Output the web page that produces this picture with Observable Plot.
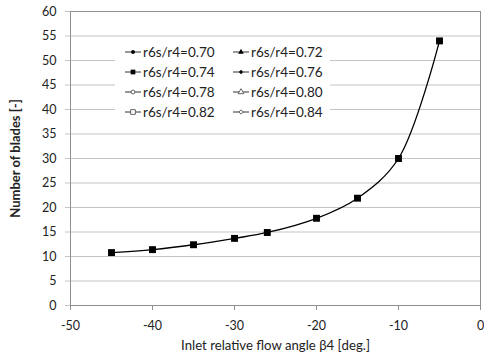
<!DOCTYPE html>
<html><head><meta charset="utf-8">
<script src="https://cdn.jsdelivr.net/npm/d3@7"></script>
<script src="https://cdn.jsdelivr.net/npm/@observablehq/plot@0.6"></script>
<style>
body{margin:0;background:#fff;}
#wrap{position:relative;width:484px;height:361px;font-family:Lato,"Open Sans",sans-serif;}
g[aria-label="y-axis label"] text{font-weight:bold;font-size:13px;}
g[aria-label="x-axis label"] text{font-size:13.2px;}
#legend{position:absolute;left:115px;top:37px;width:215px;height:94px;background:#fff;font-size:13.5px;color:#222;}
#legend .item{position:absolute;display:flex;align-items:center;height:20px;}
#legend svg{margin-right:2px;}
</style></head>
<body><div id="wrap"></div>
<script>
const angles = [-45, -40, -35, -30, -26, -20, -15, -10, -5];
const blades = [10.8, 11.4, 12.4, 13.7, 14.9, 17.8, 21.9, 30.0, 54.0];
const seriesNames = ["r6s/r4=0.70","r6s/r4=0.72","r6s/r4=0.74","r6s/r4=0.76","r6s/r4=0.78","r6s/r4=0.80","r6s/r4=0.82","r6s/r4=0.84"];
const seriesSymbols = ["circle","triangle","square","diamond2","circle","triangle","square","diamond2"];
const seriesFilled = [true,true,true,true,false,false,false,false];
const xTicks = [-50,-40,-30,-20,-10,0];
const yTicks = [0,5,10,15,20,25,30,35,40,45,50,55,60];

const data = angles.map((a,i)=>({x:a, y:blades[i]}));

const chart = Plot.plot({
  width:484, height:361,
  marginLeft:70, marginRight:4, marginTop:11, marginBottom:56,
  style:{fontFamily:"Lato, 'Open Sans', sans-serif", fontSize:"12.5px", color:"#222", background:"#fff"},
  x:{domain:[-50,0]},
  y:{domain:[0,60]},
  marks:[
    Plot.ruleY(yTicks, {stroke:"#c4c4c4", strokeWidth:1}),
    Plot.frame({stroke:"#8f8f8f"}),
    Plot.axisX({ticks:xTicks, tickFormat:d=>String(d), tickSize:5, tickPadding:11, stroke:"#8f8f8f", label:"Inlet relative flow angle β4 [deg.]", labelAnchor:"center", labelArrow:"none", labelOffset:44, fill:"#222"}),
    Plot.axisY({ticks:yTicks, tickFormat:d=>String(d), tickSize:5, tickPadding:9, stroke:"#c4c4c4", label:"Number of blades [-]", labelAnchor:"center", labelArrow:"none", labelOffset:60, fill:"#222"}),
    Plot.line(data, {x:"x", y:"y", curve:"catmull-rom", stroke:"#000", strokeWidth:1.3}),
    Plot.dot(data, {x:"x", y:"y", symbol:"square", fill:"#000", r:3.9})
  ]
});
const wrap = document.getElementById("wrap");
wrap.appendChild(chart);

// legend
const leg = document.createElement("div");
leg.id = "legend";
const symGen = {circle:d3.symbolCircle, triangle:d3.symbolTriangle, square:d3.symbolSquare, diamond2:d3.symbolDiamond2};
seriesNames.forEach((name,i)=>{
  const col = i%2, row = Math.floor(i/2);
  const it = document.createElement("div");
  it.className="item";
  it.style.left = (col===0?10:118)+"px";
  it.style.top = (5+row*20)+"px";
  const filled = seriesFilled[i];
  const size = seriesSymbols[i]==="square"?22:(seriesSymbols[i]==="triangle"?14:12);
  const path = d3.symbol(symGen[seriesSymbols[i]], size)();
  it.innerHTML = `<svg width="16" height="10"><line x1="0" x2="16" y1="5" y2="5" stroke="#333" stroke-width="1"/><path d="${path}" transform="translate(8,5)" fill="${filled?'#000':'#fff'}" stroke="${filled?'none':'#555'}" stroke-width="0.9"/></svg><span>${name}</span>`;
  leg.appendChild(it);
});
wrap.appendChild(leg);
</script></body></html>
